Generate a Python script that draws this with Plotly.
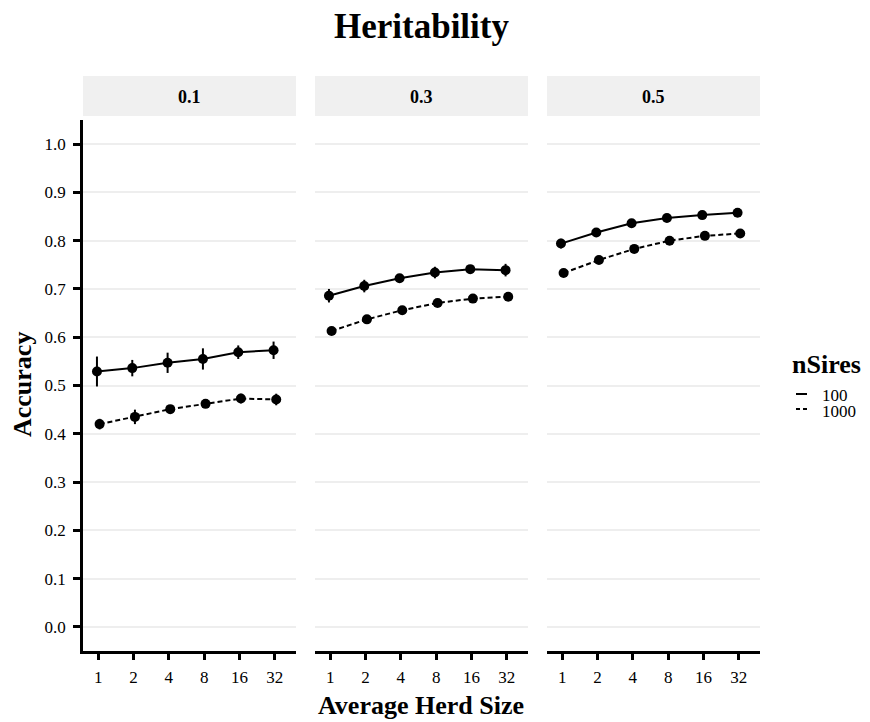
import plotly.graph_objects as go

# ---------------- data ----------------
herd_sizes = ["1", "2", "4", "8", "16", "32"]
heritability = ["0.1", "0.3", "0.5"]
nsires = ["100", "1000"]

acc_100_h01 = [0.529, 0.536, 0.547, 0.555, 0.569, 0.573]
err_100_h01 = [0.031, 0.017, 0.021, 0.022, 0.014, 0.018]
acc_1000_h01 = [0.420, 0.435, 0.451, 0.462, 0.473, 0.471]
err_1000_h01 = [0.011, 0.015, 0.008, 0.006, 0.010, 0.012]

acc_100_h03 = [0.686, 0.706, 0.722, 0.734, 0.741, 0.739]
err_100_h03 = [0.014, 0.013, 0.008, 0.012, 0.008, 0.013]
acc_1000_h03 = [0.613, 0.637, 0.656, 0.671, 0.680, 0.684]
err_1000_h03 = [0.004, 0.005, 0.004, 0.004, 0.004, 0.004]

acc_100_h05 = [0.794, 0.817, 0.836, 0.847, 0.853, 0.858]
err_100_h05 = [0.010, 0.006, 0.005, 0.005, 0.005, 0.005]
acc_1000_h05 = [0.733, 0.760, 0.783, 0.800, 0.810, 0.815]
err_1000_h05 = [0.004, 0.004, 0.004, 0.004, 0.004, 0.004]

y_ticks = [0.0, 0.1, 0.2, 0.3, 0.4, 0.5, 0.6, 0.7, 0.8, 0.9, 1.0]

panels = [
    (acc_100_h01, err_100_h01, acc_1000_h01, err_1000_h01),
    (acc_100_h03, err_100_h03, acc_1000_h03, err_1000_h03),
    (acc_100_h05, err_100_h05, acc_1000_h05, err_1000_h05),
]

# ---------------- layout helpers ----------------
# the html page body has a default 8px margin; compensate so that
# the figure lines up with the 870x722 window
OFF = 8
W, H = 870 - OFF, 722 - OFF
FONT = "Liberation Serif"


def px(x):
    return (x - OFF) / W


def py(y):
    return 1 - (y - OFF) / H


panel_px = [(83, 296), (315, 528), (547, 760)]
plot_top, plot_bot = 120, 651
strip_top, strip_bot = 76, 116

fig = go.Figure()

idx = list(range(len(herd_sizes)))
dodge = {"100": -0.035, "1000": 0.04}
dash_style = {"100": "solid", "1000": "5px,3px"}

for p, (a100, e100, a1000, e1000) in enumerate(panels):
    xa = "x" if p == 0 else f"x{p+1}"
    ya = "y" if p == 0 else f"y{p+1}"
    for ns, acc, err in (("100", a100, e100), ("1000", a1000, e1000)):
        fig.add_trace(go.Scatter(
            x=[i + dodge[ns] for i in idx], y=acc,
            mode="lines+markers",
            line=dict(color="black", width=2, dash=dash_style[ns]),
            marker=dict(color="black", size=10),
            error_y=dict(type="data", array=err, visible=True,
                         color="black", thickness=2, width=0),
            xaxis=xa, yaxis=ya, showlegend=False,
            name=ns,
        ))

layout = dict(
    width=W, height=H,
    margin=dict(l=0, r=0, t=0, b=0),
    paper_bgcolor="white", plot_bgcolor="white",
    font=dict(family=FONT, color="black"),
    showlegend=False,
)

for p, (x0, x1) in enumerate(panel_px):
    xk = "xaxis" if p == 0 else f"xaxis{p+1}"
    yk = "yaxis" if p == 0 else f"yaxis{p+1}"
    ya = "y" if p == 0 else f"y{p+1}"
    xa = "x" if p == 0 else f"x{p+1}"
    layout[xk] = dict(
        domain=[px(x0), px(x1)], anchor=ya,
        range=[-0.43, 5.6],
        tickmode="array", tickvals=idx, ticktext=herd_sizes,
        showgrid=False, zeroline=False,
        showline=True, linecolor="black", linewidth=2.5,
        ticks="outside", ticklen=6, tickwidth=2.5, tickcolor="black",
        tickfont=dict(family=FONT, size=17, color="black"),
        ticklabelstandoff=3,
    )
    layout[yk] = dict(
        domain=[py(plot_bot), py(plot_top)], anchor=xa,
        range=[-0.05, 1.05],
        tickmode="array", tickvals=y_ticks,
        ticktext=[f"{v:.1f}" for v in y_ticks],
        showgrid=True, gridcolor="#eeeeee", gridwidth=2,
        zeroline=False,
        showline=(p == 0), linecolor="black", linewidth=2.5,
        ticks="outside" if p == 0 else "", ticklen=7, tickwidth=2.5,
        tickcolor="black",
        showticklabels=(p == 0),
        tickfont=dict(family=FONT, size=17, color="black"),
        ticklabelstandoff=4,
    )

shapes = []
annotations = []

# facet strips
for p, (x0, x1) in enumerate(panel_px):
    shapes.append(dict(type="rect", xref="paper", yref="paper",
                       x0=px(x0), x1=px(x1), y0=py(strip_bot), y1=py(strip_top),
                       fillcolor="#f0f0f0", line=dict(width=0), layer="below"))
    annotations.append(dict(text=f"<b>{heritability[p]}</b>", xref="paper", yref="paper",
                            x=px((x0 + x1) / 2), y=py(97), xanchor="center", yanchor="middle",
                            showarrow=False, font=dict(family=FONT, size=18, color="black")))

# title
annotations.append(dict(text="<b>Heritability</b>", xref="paper", yref="paper",
                        x=px(421), y=py(26), xanchor="center", yanchor="middle",
                        showarrow=False, font=dict(family=FONT, size=35, color="black")))
# axis titles
annotations.append(dict(text="<b>Average Herd Size</b>", xref="paper", yref="paper",
                        x=px(421), y=py(705), xanchor="center", yanchor="middle",
                        showarrow=False, font=dict(family=FONT, size=26, color="black")))
annotations.append(dict(text="<b>Accuracy</b>", xref="paper", yref="paper",
                        x=px(22), y=py(385), xanchor="center", yanchor="middle",
                        textangle=-90,
                        showarrow=False, font=dict(family=FONT, size=26, color="black")))

# legend
annotations.append(dict(text="<b>nSires</b>", xref="paper", yref="paper",
                        x=px(790), y=py(364), xanchor="left", yanchor="middle",
                        showarrow=False, font=dict(family=FONT, size=26, color="black")))
for ns, yc in (("100", 395), ("1000", 410)):
    shapes.append(dict(type="line", xref="paper", yref="paper",
                       x0=px(796), x1=px(807), y0=py(yc - 1), y1=py(yc - 1),
                       line=dict(color="black", width=2,
                                 dash="solid" if ns == "100" else "4px,3px")))
    annotations.append(dict(text=ns, xref="paper", yref="paper",
                            x=px(820), y=py(yc + 1), xanchor="left", yanchor="middle",
                            showarrow=False, font=dict(family=FONT, size=17, color="black")))

layout["shapes"] = shapes
layout["annotations"] = annotations
fig.update_layout(**layout)

fig.write_html("out.html")
